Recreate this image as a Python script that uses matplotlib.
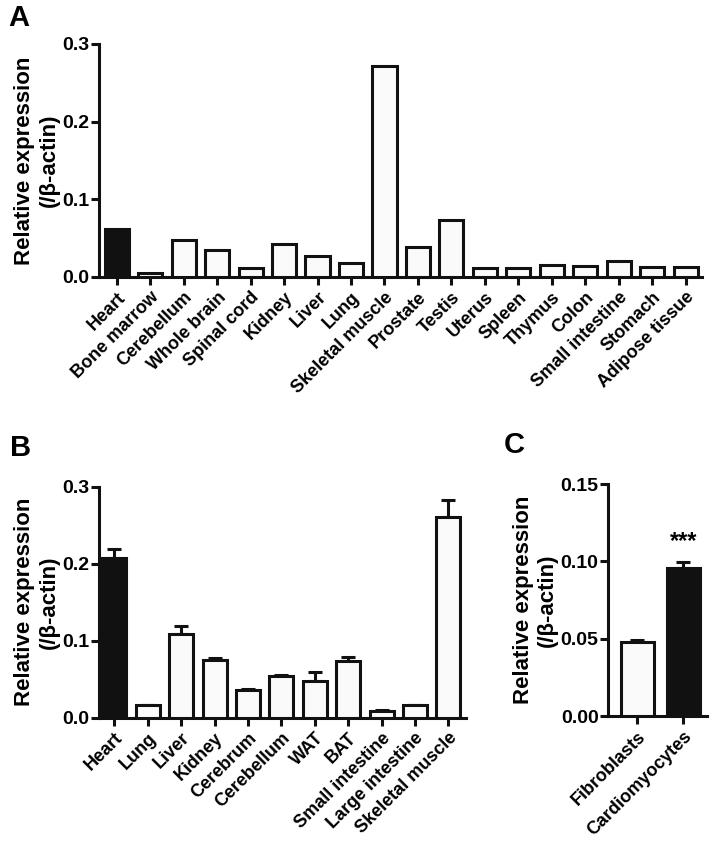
import matplotlib
matplotlib.use('Agg')
import matplotlib.pyplot as plt

plt.rcParams['font.family'] = ['Liberation Sans', 'DejaVu Sans']
plt.rcParams['font.weight'] = 'bold'

# A: 组织表达（无误差线）
tissues_a = ['Heart', 'Bone marrow', 'Cerebellum', 'Whole brain', 'Spinal cord', 'Kidney',
             'Liver', 'Lung', 'Skeletal muscle', 'Prostate', 'Testis', 'Uterus', 'Spleen',
             'Thymus', 'Colon', 'Small intestine', 'Stomach', 'Adipose tissue']
values_a = [0.062, 0.005, 0.048, 0.035, 0.012, 0.042, 0.027, 0.018, 0.272, 0.039, 0.074,
            0.011, 0.012, 0.015, 0.014, 0.020, 0.013, 0.013]

# B: 组织表达（均值 + SEM）
tissues_b = ['Heart', 'Lung', 'Liver', 'Kidney', 'Cerebrum', 'Cerebellum', 'WAT', 'BAT',
             'Small intestine', 'Large intestine', 'Skeletal muscle']
values_b = [0.208, 0.016, 0.109, 0.075, 0.036, 0.054, 0.048, 0.073, 0.009, 0.016, 0.260]
errors_b = [0.011, 0.001, 0.010, 0.002, 0.001, 0.001, 0.011, 0.006, 0.001, 0.001, 0.023]

# C: 细胞类型
cells_c = ['Fibroblasts', 'Cardiomyocytes']
values_c = [0.048, 0.0955]
errors_c = [0.001, 0.004]

dark = '#111111'
light = '#fafafa'
lw = 2.2

fig = plt.figure(figsize=(7.16, 8.57), dpi=100)


def style(ax, ymax, yticks, fmt):
    for s in ['top', 'right']:
        ax.spines[s].set_visible(False)
    for s in ['left', 'bottom']:
        ax.spines[s].set_linewidth(lw)
        ax.spines[s].set_color(dark)
    ax.set_ylim(0, ymax)
    ax.set_yticks(yticks)
    ax.set_yticklabels([fmt % t for t in yticks], fontsize=14, fontweight='bold')
    ax.tick_params(axis='both', width=lw, length=5.5, color=dark, pad=1.5)
    ax.tick_params(axis='x', pad=3)
    ax.set_ylabel('Relative expression\n(/β-actin)', fontsize=16, fontweight='bold',
                  labelpad=2, linespacing=1.2)


def bars(ax, names, vals, errs=None, dark_idx=(0,), width=0.72):
    x = list(range(len(names)))
    colors = [dark if i in dark_idx else light for i in x]
    ax.bar(x, vals, width=width, color=colors, edgecolor=dark, linewidth=lw, zorder=3)
    if errs is not None:
        ax.errorbar(x, vals, yerr=[[0] * len(errs), errs], fmt='none', ecolor=dark,
                    elinewidth=lw, capsize=5, capthick=lw, zorder=2)
    ax.set_xticks(x)
    ax.set_xticklabels(names, rotation=45, ha='right', rotation_mode='anchor',
                       fontsize=13, fontweight='bold')


# A
ax_a = fig.add_axes([0.1383, 0.6768, 0.8422, 0.2719])
bars(ax_a, tissues_a, values_a)
ax_a.set_xlim(-0.53, 17.49)
style(ax_a, 0.3, [0.0, 0.1, 0.2, 0.3], '%.1f')

# B
ax_b = fig.add_axes([0.1383, 0.1626, 0.5126, 0.2695])
bars(ax_b, tissues_b, values_b, errors_b)
ax_b.set_xlim(-0.46, 10.53)
style(ax_b, 0.3, [0.0, 0.1, 0.2, 0.3], '%.1f')

# C
ax_c = fig.add_axes([0.8496, 0.1645, 0.1374, 0.2707])
bars(ax_c, cells_c, values_c, errors_c, dark_idx=(1,), width=0.72)
ax_c.set_xlim(-0.63, 1.51)
style(ax_c, 0.15, [0.00, 0.05, 0.10, 0.15], '%.2f')
ax_c.text(1, values_c[1] + errors_c[1] + 0.006, '***', ha='center', va='bottom',
          fontsize=17, fontweight='bold')

# 面板字母
fig.text(0.011, 0.979, 'A', fontsize=21, fontweight='bold', va='center')
fig.text(0.014, 0.477, 'B', fontsize=21, fontweight='bold', va='center')
fig.text(0.703, 0.481, 'C', fontsize=21, fontweight='bold', va='center')

fig.savefig('out.png', dpi=100)
